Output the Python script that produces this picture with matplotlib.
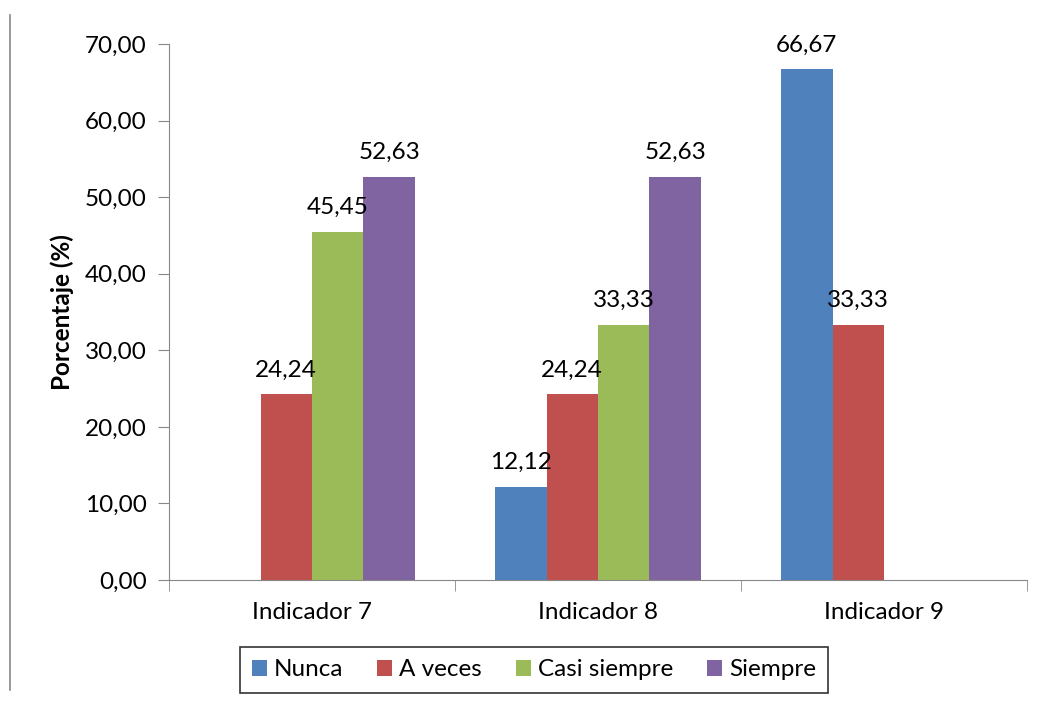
import matplotlib.pyplot as plt
import numpy as np

plt.rcParams['font.family'] = ['Lato', 'DejaVu Sans']

categories = ["Indicador 7", "Indicador 8", "Indicador 9"]
series = ["Nunca", "A veces", "Casi siempre", "Siempre"]
nunca = [0, 12.12, 66.67]
a_veces = [24.24, 24.24, 33.33]
casi_siempre = [45.45, 33.33, 0]
siempre = [52.63, 52.63, 0]
colors = ["#4F81BD", "#C0504D", "#9BBB59", "#8064A2"]
fs = 17.5

def fmt(v):
    return f"{v:.2f}".replace(".", ",")

fig = plt.figure(figsize=(10.46, 7.04), dpi=100)
ax = fig.add_axes([169/1046, 1-580/704, 858/1046, 536/704])

x = np.arange(len(categories))
w = 0.18
for i, (name, vals) in enumerate(zip(series, [nunca, a_veces, casi_siempre, siempre])):
    pos = x + (i - 1.5) * w
    ax.bar(pos, vals, w, color=colors[i], label=name)
    for p, v in zip(pos, vals):
        if v > 0:
            ax.annotate(fmt(v), (p, v), xytext=(0, 10), textcoords="offset points",
                        ha="center", va="bottom", fontsize=fs)

ax.set_xlim(-0.5, 2.5)
ax.set_ylim(0, 70)
ax.set_yticks(np.arange(0, 71, 10))
ax.set_yticklabels([fmt(v) for v in np.arange(0, 71, 10)], fontsize=fs)
ax.set_xticks(x)
ax.set_xticklabels(categories, fontsize=fs)
ax.tick_params(axis="x", length=0, pad=16)
ax.set_xticks([-0.5, 0.5, 1.5, 2.5], minor=True)
ax.tick_params(axis="x", which="minor", length=8, color="#888888", direction="out")
ax.tick_params(axis="y", length=8, color="#888888", pad=8)
for s in ["top", "right"]:
    ax.spines[s].set_visible(False)
for s in ["left", "bottom"]:
    ax.spines[s].set_color("#888888")
ax.set_ylabel("Porcentaje (%)", fontsize=fs, fontweight="bold", labelpad=8)

leg = fig.legend(loc="center", bbox_to_anchor=(534/1046, 1-670/704), ncol=4,
                 fontsize=fs, frameon=True, fancybox=False, edgecolor="black",
                 handlelength=0.6, handleheight=0.6, handletextpad=0.3,
                 columnspacing=1.4, borderpad=0.5, borderaxespad=0)
leg.get_frame().set_linewidth(1.2)

fig.add_artist(plt.Line2D([10/1046, 10/1046], [1-15/704, 1-690/704],
                          color="#888888", lw=1.2, transform=fig.transFigure))

fig.savefig("out.png", dpi=100, facecolor="white")
